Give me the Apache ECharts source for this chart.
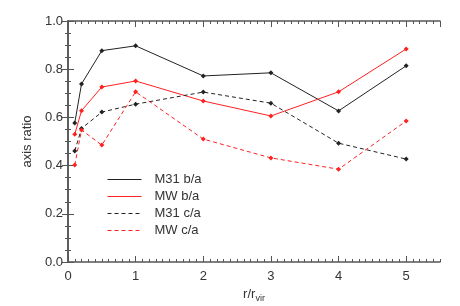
<!DOCTYPE html>
<html><head><meta charset="utf-8">
<script src="https://cdn.jsdelivr.net/npm/echarts@6/dist/echarts.min.js"></script>
<style>html,body{margin:0;padding:0;background:#fff}#c{width:460px;height:306px}</style>
</head><body><div id="c"></div>
<script>
var radii = [0.1, 0.2, 0.5, 1, 2, 3, 4, 5];
var m31BA = [0.577, 0.739, 0.877, 0.897, 0.772, 0.785, 0.627, 0.814];
var mwBA  = [0.530, 0.628, 0.726, 0.751, 0.668, 0.606, 0.706, 0.884];
var m31CA = [0.461, 0.554, 0.622, 0.655, 0.705, 0.659, 0.493, 0.427];
var mwCA  = [0.402, 0.548, 0.485, 0.706, 0.510, 0.432, 0.385, 0.585];
var seriesNames = ['M31 b/a', 'MW b/a', 'M31 c/a', 'MW c/a'];

function pairs(v){ return radii.map(function(r,i){ return [r, v[i]]; }); }
var font = 'Liberation Sans';
var axisCol = '#555';
function mk(name, vals, color, type){
  return {name:name, type:'line', data:pairs(vals), xAxisIndex:0, yAxisIndex:0,
    symbol:'diamond', symbolSize:5, showSymbol:true,
    lineStyle:{color:color, width:1, type:type},
    itemStyle:{color:color}, emphasis:{disabled:true}, animation:false};
}
function xa(pos, interval, len, labels, line, extra){
  var o = {type:'value', position:pos, min:0, max:5.5, interval:interval,
    axisLine:{show:line, lineStyle:{color:axisCol, width:1.5}},
    axisTick:{show:true, inside:true, length:len, lineStyle:{color:axisCol, width:1}},
    axisLabel:{show:labels, color:'#333', fontFamily:font, fontSize:13, margin:8, showMaxLabel:false},
    splitLine:{show:false}};
  if (extra) for (var k in extra) o[k]=extra[k];
  return o;
}
var chart = echarts.init(document.getElementById('c'));
chart.setOption({
  animation:false,
  grid:{left:68, right:20, top:21, bottom:44, outerBoundsMode:'none', containLabel:false},
  xAxis:[
    xa('bottom',1,6,true,true,{name:'{a|r/r}{b|vir}', nameLocation:'middle', nameGap:19,
      nameTextStyle:{rich:{a:{fontFamily:font,fontSize:13,color:'#333'},b:{fontFamily:font,fontSize:9,color:'#333',padding:[9,0,0,0]}}}}),
    xa('bottom',0.1,3,false,false),
    xa('top',1,6,false,true),
    xa('top',0.1,3,false,false)
  ],
  yAxis:[
    {type:'value', position:'left', min:0, max:1, interval:0.2,
     name:'axis ratio', nameLocation:'middle', nameGap:28,
     nameTextStyle:{fontFamily:font, fontSize:13, color:'#333'},
     axisLine:{show:true, lineStyle:{color:axisCol, width:1.5}},
     axisTick:{show:true, inside:true, length:6, lineStyle:{color:axisCol}},
     minorTick:{show:true, splitNumber:4, length:3, lineStyle:{color:axisCol}},
     axisLabel:{color:'#333', fontFamily:font, fontSize:13, margin:5, formatter:function(v){return v.toFixed(1);}},
     splitLine:{show:false}},
    {type:'value', position:'right', min:0, max:1, interval:0.2,
     axisLine:{show:true, lineStyle:{color:axisCol, width:1.5}},
     axisTick:{show:true, inside:true, length:6, lineStyle:{color:axisCol}},
     minorTick:{show:true, splitNumber:4, length:3, lineStyle:{color:axisCol}},
     axisLabel:{show:false}, splitLine:{show:false}}
  ],
  legend:{orient:'vertical', left:102, top:168, itemWidth:34, itemHeight:14, itemGap:4,
    data:seriesNames, itemStyle:{opacity:0}, lineStyle:{width:1}, selectedMode:false,
    textStyle:{fontFamily:font, fontSize:13, color:'#333', padding:[0,0,0,8]}},
  series:[
    mk(seriesNames[0], m31BA, '#222', 'solid'),
    mk(seriesNames[1], mwBA, '#ff2020', 'solid'),
    mk(seriesNames[2], m31CA, '#222', [4,3]),
    mk(seriesNames[3], mwCA, '#ff2020', [4,3])
  ]
});
</script></body></html>
